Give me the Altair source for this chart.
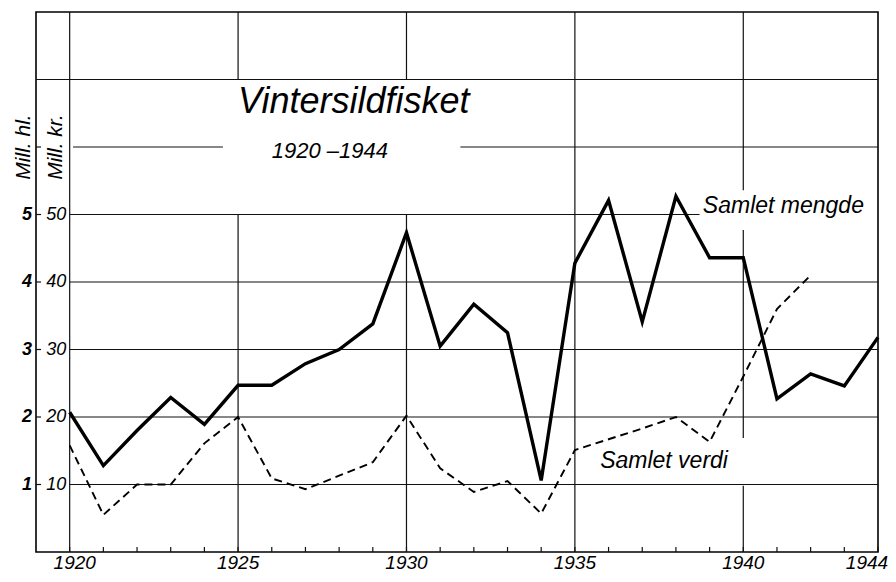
import altair as alt
import pandas as pd

# ---- data ----
years = list(range(1920, 1945))
# Samlet mengde, mill. hl
mengde_hl = [2.07, 1.28, 1.80, 2.29, 1.89, 2.47, 2.47, 2.79, 3.00, 3.38,
             4.73, 3.05, 3.67, 3.25, 1.06, 4.28, 5.21, 3.41, 5.27, 4.36,
             4.36, 2.27, 2.64, 2.46, 3.18]
# Samlet verdi, mill. kr
verdi_years = list(range(1920, 1943))
verdi_kr = [15.8, 5.5, 10.0, 10.0, 16.1, 20.0, 10.9, 9.3, 11.3, 13.3,
            20.2, 12.4, 8.9, 10.5, 5.7, 15.1, 16.7, 18.3, 20.0, 16.3,
            26.0, 36.0, 41.0]

x_label_years = ["1920", "1925", "1930", "1935", "1940", "1944"]
x_label_at = [1920.15, 1925, 1930, 1935, 1940, 1944.3]
x_label_align = ["center", "center", "center", "center", "center", "right"]
kr_ticks = [10, 20, 30, 40, 50]
hl_ticks = [1, 2, 3, 4, 5]

# grid segments (in data units) – broken where the lettering sits
h_grid_y = [70, 60, 60, 50, 40, 30, 20, 10]
h_grid_x1 = [1919, 1920.1, 1931.6, 1920, 1920, 1920, 1920, 1920]
h_grid_x2 = [1944, 1924.55, 1944, 1938.7, 1944, 1944, 1944, 1944]
v_grid_x = [1920, 1925, 1925, 1930, 1930, 1935, 1940, 1940, 1940]
v_grid_y1 = [0, 0, 70, 0, 70, 0, 0, 16.9, 53.6]
v_grid_y2 = [80, 50, 80, 50, 80, 80, 9.8, 47.7, 80]

FONT = "Liberation Sans"

df_m = pd.DataFrame({"year": years, "hl": mengde_hl})
df_v = pd.DataFrame({"year": verdi_years, "kr": verdi_kr})
df_h = pd.DataFrame({"y": h_grid_y, "x1": h_grid_x1, "x2": h_grid_x2})
df_vg = pd.DataFrame({"x": v_grid_x, "y1": v_grid_y1, "y2": v_grid_y2})
df_xt = pd.DataFrame({"year": years, "y1": 0.0, "y2": 0.75})
df_yt = pd.DataFrame({"v": kr_ticks + [60], "x1": 1919.0, "x2": 1919.15})
df_kr = pd.DataFrame({"v": kr_ticks, "x": 1919.9, "t": [str(v) for v in kr_ticks]})
df_hl = pd.DataFrame({"v": [h * 10 for h in hl_ticks], "x": 1918.88,
                      "t": [str(v) for v in hl_ticks]})
df_xl = pd.DataFrame({"x": x_label_at, "t": x_label_years, "a": x_label_align, "y": -2.45})

xs = alt.Scale(domain=[1919, 1944], nice=False, zero=False)
ys = alt.Scale(domain=[0, 80], nice=False, zero=False)


def X(f):
    return alt.X(f, type="quantitative", scale=xs, axis=None)


def Y(f):
    return alt.Y(f, type="quantitative", scale=ys, axis=None)


hgrid = alt.Chart(df_h).mark_rule(color="#111", strokeWidth=1.2).encode(
    y=Y("y"), x=X("x1"), x2="x2")
vgrid = alt.Chart(df_vg).mark_rule(color="#111", strokeWidth=1.2).encode(
    x=X("x"), y=Y("y1"), y2="y2")
xticks = alt.Chart(df_xt).mark_rule(color="#111", strokeWidth=1.2).encode(
    x=X("year"), y=Y("y1"), y2="y2")
yticks = alt.Chart(df_yt).mark_rule(color="#111", strokeWidth=1.2).encode(
    y=Y("v"), x=X("x1"), x2="x2")

xlab_c = alt.Chart(df_xl).transform_filter("datum.a == 'center'").mark_text(
    font=FONT, fontStyle="italic", fontSize=19, align="center", baseline="alphabetic",
    color="black").encode(x=X("x"), y=Y("y"), text="t:N")
xlab_r = alt.Chart(df_xl).transform_filter("datum.a == 'right'").mark_text(
    font=FONT, fontStyle="italic", fontSize=19, align="right", baseline="alphabetic",
    color="black").encode(x=X("x"), y=Y("y"), text="t:N")

kr_lab = alt.Chart(df_kr).mark_text(
    font=FONT, fontStyle="italic", fontSize=18, align="right", baseline="middle",
    color="black").encode(y=Y("v"), x=X("x"), text="t:N")
hl_lab = alt.Chart(df_hl).mark_text(
    font=FONT, fontStyle="italic", fontSize=18, align="right", baseline="middle",
    color="black", fontWeight="bold").encode(y=Y("v"), x=X("x"), text="t:N")

mengde = alt.Chart(df_m).transform_calculate(kr="datum.hl * 10").mark_line(
    color="black", strokeWidth=3.4, strokeJoin="miter").encode(x=X("year"), y=Y("kr"))
verdi = alt.Chart(df_v).mark_line(
    color="black", strokeWidth=1.9, strokeDash=[8, 5]).encode(x=X("year"), y=Y("kr"))


def label(text, x, y, size, align="left", angle=0, baseline="alphabetic"):
    d = pd.DataFrame({"x": [x], "y": [y], "t": [text]})
    kw = dict(font=FONT, fontStyle="italic", fontSize=size, align=align,
              baseline=baseline, color="black")
    if angle:
        kw["angle"] = angle
    return alt.Chart(d).mark_text(**kw).encode(x=X("x"), y=Y("y"), text="t:N")


texts = [
    label("Vintersildfisket", 1925.0, 65.0, 36),
    label("1920 –1944", 1926.0, 58.3, 22),
    label("Samlet mengde", 1938.8, 50.2, 23),
    label("Samlet verdi", 1935.75, 12.4, 23),
    label("Mill. hl.", 1918.63, 60, 21, align="center", angle=270, baseline="middle"),
    label("Mill. kr.", 1919.6, 60, 21, align="center", angle=270, baseline="middle"),
]

chart = alt.layer(xticks, hgrid, vgrid, yticks, xlab_c, xlab_r, kr_lab, hl_lab,
                  verdi, mengde, *texts).properties(
    width=842, height=540,
    autosize=alt.AutoSizeParams(type="none"),
    padding={"left": 28, "top": 4, "right": 10, "bottom": 22},
    background="white",
).configure_view(stroke="black", strokeWidth=1.6)

chart.save("out.html", embed_options={"renderer": "svg", "actions": False})
